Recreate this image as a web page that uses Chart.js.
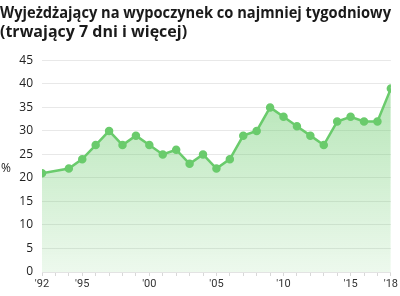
<html>
  <head>
    <script src="https://cdn.jsdelivr.net/npm/chart.js@4.4.0/dist/chart.umd.min.js"></script>
    <style>
      body { margin: 0; background: #fff; }
      #wrap { width: 400px; height: 296px; }
    </style>
  </head>
  <body>
    <div id="wrap"><canvas id="lineChart" width="400" height="296"></canvas></div>
    <script>
      const years = [1992, 1994, 1995, 1996, 1997, 1998, 1999, 2000, 2001, 2002, 2003, 2004, 2005,
                     2006, 2007, 2008, 2009, 2010, 2011, 2012, 2013, 2014, 2015, 2016, 2017, 2018];
      const values = [21, 22, 24, 27, 30, 27, 29, 27, 25, 26, 23, 25, 22,
                      24, 29, 30, 35, 33, 31, 29, 27, 32, 33, 32, 32, 39];
      const labeledYears = [1992, 1995, 2000, 2005, 2010, 2015, 2018];
      const titleLines = ['Wyjeżdżający na wypoczynek co najmniej tygodniowy', '(trwający 7 dni i więcej)'];

      const GREEN = '#6acb6c';

      // the horizontal "%" next to the y axis
      const percentLabel = {
        id: 'percentLabel',
        afterDraw(chart) {
          const ctx = chart.ctx;
          const area = chart.chartArea;
          ctx.save();
          ctx.font = '12px "Open Sans"';
          ctx.fillStyle = '#222';
          ctx.textAlign = 'left';
          ctx.textBaseline = 'middle';
          ctx.fillText('%', 1, (area.top + area.bottom) / 2 + 2);
          ctx.restore();
        }
      };

      window.onload = function() {
        const ctx = document.getElementById('lineChart');
        new Chart(ctx, {
          type: 'line',
          data: {
            datasets: [{
              data: years.map((y, i) => ({ x: y, y: values[i] })),
              borderColor: GREEN,
              borderWidth: 2.5,
              pointBackgroundColor: GREEN,
              pointBorderColor: GREEN,
              pointRadius: 3,
              tension: 0,
              fill: 'origin',
              backgroundColor: function(context) {
                const area = context.chart.chartArea;
                if (!area) return 'rgba(106,203,108,0.4)';
                const g = context.chart.ctx.createLinearGradient(0, area.top, 0, area.bottom);
                g.addColorStop(0, 'rgba(106,203,108,0.55)');
                g.addColorStop(1, 'rgba(106,203,108,0.12)');
                return g;
              }
            }]
          },
          options: {
            responsive: false,
            animation: false,
            layout: { padding: { left: 0, right: 9, bottom: 0 } },
            plugins: {
              legend: { display: false },
              tooltip: { enabled: false },
              title: {
                display: true,
                text: titleLines,
                align: 'start',
                color: '#1a1a1a',
                font: { family: '"Open Sans"', size: 16, weight: 'bold', lineHeight: 1.2 },
                padding: { top: 4, bottom: 18 }
              }
            },
            scales: {
              x: {
                type: 'linear',
                min: 1992,
                max: 2018,
                afterBuildTicks: function(scale) {
                  const t = [];
                  for (let y = 1992; y <= 2018; y++) t.push({ value: y });
                  scale.ticks = t;
                },
                afterFit: function(scale) { scale.height = 24; },
                border: { display: true, color: '#e3e3e3' },
                grid: { drawOnChartArea: false, drawTicks: true, tickLength: 4, color: '#d8d8d8' },
                ticks: {
                  autoSkip: false,
                  maxRotation: 0,
                  padding: 2,
                  color: '#333',
                  font: { family: '"Liberation Sans Narrow", "Roboto"', size: 11 },
                  callback: function(v) {
                    return labeledYears.includes(v) ? "'" + String(v).slice(2) : '';
                  }
                }
              },
              y: {
                min: 0,
                max: 45,
                afterFit: function(scale) { scale.width = 42; },
                border: { display: false },
                grid: { color: '#e8e8e8', drawTicks: false },
                ticks: {
                  stepSize: 5,
                  padding: 9,
                  color: '#222',
                  font: { family: '"Open Sans"', size: 12 }
                }
              }
            }
          },
          plugins: [percentLabel]
        });
      };
    </script>
  </body>
</html>
